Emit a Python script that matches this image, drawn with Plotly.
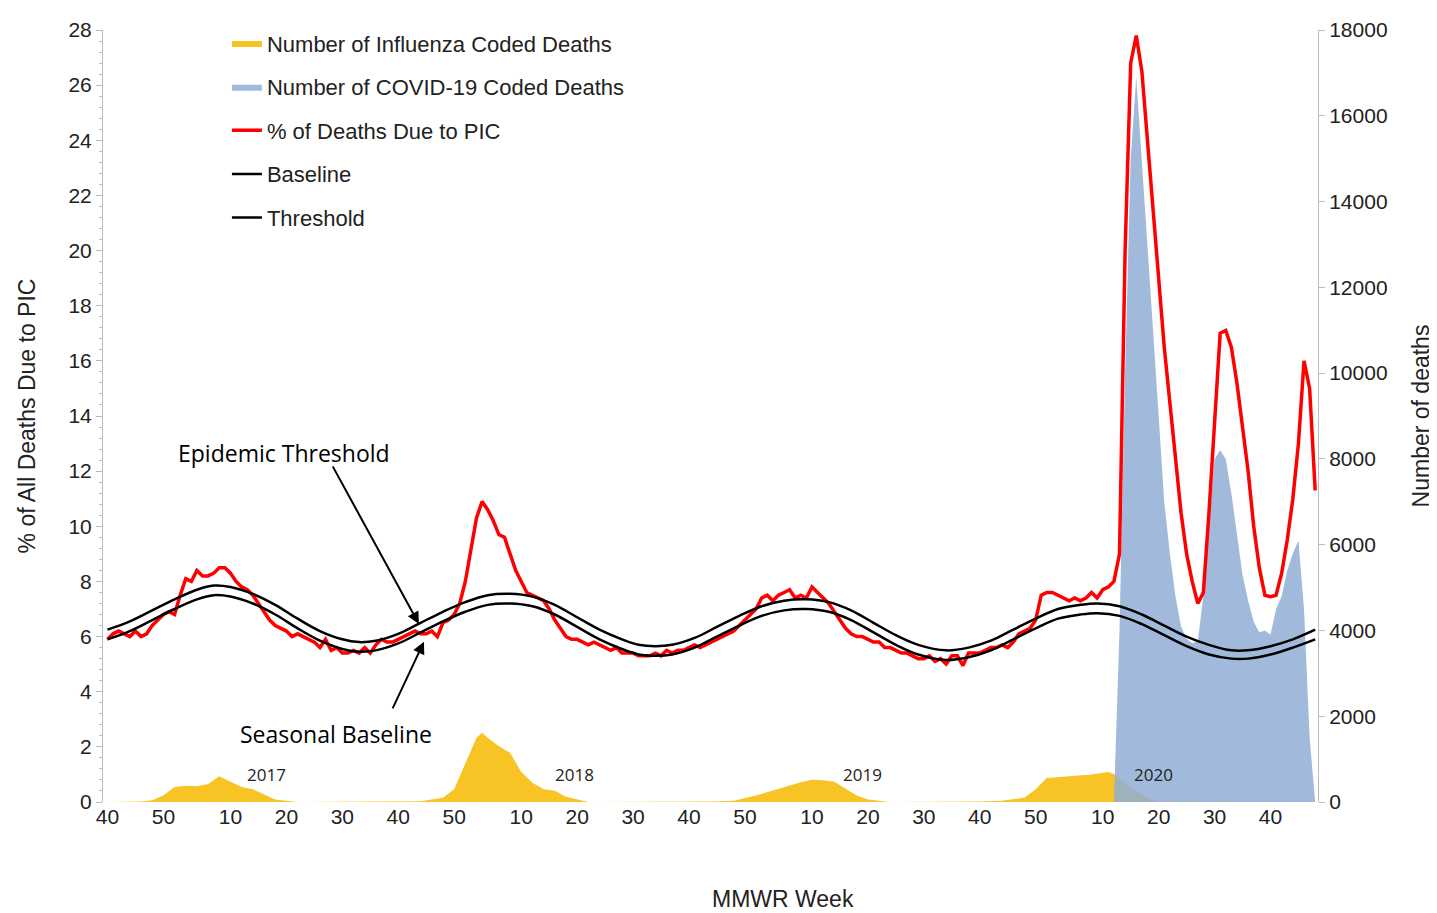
"""Percentage of deaths due to pneumonia, influenza or COVID-19 (PIC), with coded death counts."""

from plotly.graph_objects import Scatter, Figure

# weekly PIC percentage, from MMWR week 40 of 2016 onwards (index = week number in the series)
pic_pct = [5.9, 6.1, 6.2, 6.1, 6.0, 6.2, 6.0, 6.1, 6.4, 6.6, 6.8, 6.9, 6.8,
           7.5, 8.1, 8.0, 8.4, 8.2, 8.2, 8.3, 8.5,
           8.5, 8.3, 8.0, 7.8, 7.7, 7.5, 7.2, 6.9, 6.6, 6.4,
           6.3, 6.2, 6.0, 6.1, 6.0, 5.9, 5.8, 5.6, 5.9, 5.5, 5.6, 5.4, 5.4, 5.5, 5.4,
           5.6, 5.4, 5.7, 5.9, 5.8, 5.8, 5.9, 6.0, 6.1, 6.2, 6.1, 6.1, 6.2, 6.0, 6.5,
           6.6, 6.8, 7.2, 8.0, 9.2, 10.3, 10.9, 10.6, 10.2, 9.7,
           9.6, 9.0, 8.4, 8.0, 7.6, 7.5, 7.4, 7.3, 7.0, 6.6,
           6.3, 6.0, 5.9, 5.9, 5.8, 5.7, 5.8, 5.7, 5.6, 5.5, 5.6, 5.4, 5.4, 5.4, 5.3, 5.3, 5.3, 5.4, 5.3, 5.5,
           5.4, 5.5, 5.5, 5.6, 5.7, 5.6, 5.7, 5.8, 5.9, 6.0, 6.1, 6.2, 6.4, 6.6, 6.8, 7.0, 7.4, 7.5, 7.3, 7.5,
           7.6, 7.7, 7.4, 7.5, 7.4, 7.8, 7.6, 7.4, 7.2, 6.9, 6.6, 6.3, 6.1, 6.0, 6.0,
           5.9, 5.8, 5.8, 5.6, 5.6, 5.5, 5.4, 5.4, 5.3, 5.2, 5.2, 5.3, 5.1, 5.2, 5.0, 5.3, 5.3, 4.95, 5.4, 5.4,
           5.4, 5.5, 5.6, 5.6, 5.7, 5.6, 5.8, 6.1, 6.2, 6.3, 6.6, 7.5, 7.6, 7.6, 7.5, 7.4, 7.3, 7.4, 7.3, 7.4,
           7.6, 7.4, 7.7, 7.8, 8.0,
           9.0, 20.0, 26.8, 27.8, 26.5, 24.0, 21.5, 19.0, 16.5, 14.5, 12.5, 10.5, 9.0, 8.0, 7.2,
           7.6, 10.5, 14.0, 17.0, 17.1, 16.5, 15.2, 13.5, 12.0, 10.0, 8.5, 7.5, 7.45, 7.5, 8.3,
           9.5, 11.0, 13.0, 16.0, 15.0, 11.3]
weeks = list(range(len(pic_pct)))

# seasonal baseline and epidemic threshold (% of deaths)
curve_weeks = [0, 4, 8, 12, 16, 19, 22, 26, 30, 34, 38, 42, 45, 48, 52, 56, 60, 64, 68, 72,
               76, 80, 84, 88, 92, 95, 98, 101, 105, 109, 113, 117, 121, 125, 129, 133, 137,
               141, 145, 150, 154, 158, 162, 166, 170, 174, 177, 181, 185, 189, 193, 197,
               201, 204, 208, 212, 216]
baseline = [5.9, 6.2, 6.6, 7.0, 7.35, 7.5, 7.45, 7.2, 6.8, 6.3, 5.85, 5.55, 5.45, 5.5, 5.75,
            6.15, 6.55, 6.9, 7.15, 7.2, 7.1, 6.8, 6.35, 5.9, 5.55, 5.35, 5.3, 5.35, 5.6, 6.0,
            6.4, 6.75, 6.95, 7.0, 6.9, 6.6, 6.15, 5.7, 5.35, 5.15, 5.25, 5.5, 5.9, 6.3, 6.65,
            6.8, 6.85, 6.75, 6.45, 6.05, 5.65, 5.35, 5.2, 5.2, 5.35, 5.6, 5.9]
threshold = [6.25, 6.55, 6.95, 7.35, 7.7, 7.85, 7.8, 7.55, 7.15, 6.65, 6.2, 5.9, 5.8, 5.85,
             6.1, 6.5, 6.9, 7.25, 7.5, 7.55, 7.45, 7.15, 6.7, 6.25, 5.9, 5.7, 5.65, 5.7, 5.95,
             6.35, 6.75, 7.1, 7.3, 7.35, 7.25, 6.95, 6.5, 6.05, 5.7, 5.5, 5.6, 5.85, 6.25,
             6.65, 7.0, 7.15, 7.2, 7.1, 6.8, 6.4, 6.0, 5.7, 5.5, 5.5, 5.65, 5.9, 6.25]

# influenza coded deaths
flu_weeks = [0, 6, 8, 10, 12, 14, 16, 18, 20, 22, 24, 26, 28, 30, 34, 56, 60, 62, 64, 66, 67,
             68, 70, 72, 74, 76, 78, 80, 82, 86, 108, 112, 116, 118, 120, 122, 124, 126, 128,
             130, 132, 134, 136, 140, 156, 160, 164, 166, 168, 170, 172, 174, 176, 178, 179,
             180, 182, 184, 186, 188, 216]
flu_deaths = [0, 10, 40, 150, 350, 380, 370, 420, 600, 480, 350, 300, 180, 60, 0, 20, 100, 300,
              900, 1500, 1615, 1500, 1300, 1150, 700, 450, 300, 260, 120, 0, 10, 30, 150, 230,
              300, 380, 460, 520, 510, 470, 320, 150, 60, 0, 10, 30, 100, 300, 560, 580, 600,
              620, 640, 680, 700, 650, 450, 250, 90, 10, 0]

# COVID-19 coded deaths
covid_weeks = list(range(180, 217))
covid_deaths = [0, 4000, 10000, 15000, 16900, 15000, 13000, 11000, 9000, 7000, 5800, 4800,
                4100, 3800, 3700, 3750, 4800, 6500, 8000, 8200, 8000, 7200, 6200, 5300, 4700,
                4200, 3950, 4000, 3900, 4500, 4800, 5400, 5800, 6100, 4500, 1500, 0]

tick_vals = [0, 10, 22, 32, 42, 52, 62, 74, 84, 94, 104, 114, 126, 136, 146, 156, 166,
             178, 188, 198, 208]
tick_text = ["40", "50", "10", "20", "30", "40", "50", "10", "20", "30", "40", "50",
             "10", "20", "30", "40", "50", "10", "20", "30", "40"]
year_labels = ["2017", "2018", "2019", "2020"]
year_weeks = [28.5, 83.5, 135, 187]

FONT = "Liberation Sans, Arial, sans-serif"
NOTE_FONT = "Open Sans, sans-serif"

fig = Figure()
# death counts on the base (right) axis, percentages on the overlaying (left) axis so lines sit on top
fig.add_trace(Scatter(x=flu_weeks, y=flu_deaths, yaxis="y", mode="lines", fill="tozeroy",
                      line={"width": 0, "color": "#F7C325"}, fillcolor="#F7C325",
                      name="Number of Influenza Coded Deaths", legendgroup="a"))
fig.add_trace(Scatter(x=covid_weeks, y=covid_deaths, yaxis="y", mode="lines", fill="tozeroy",
                      line={"width": 0, "color": "rgba(145,174,214,0.85)"},
                      fillcolor="rgba(145,174,214,0.85)",
                      name="Number of COVID-19 Coded Deaths", legendgroup="b"))
fig.add_trace(Scatter(x=weeks, y=pic_pct, yaxis="y2", mode="lines",
                      line={"color": "#FF0000", "width": 3.5},
                      name="% of Deaths Due to PIC", legendgroup="c"))
fig.add_trace(Scatter(x=curve_weeks, y=baseline, yaxis="y2", mode="lines",
                      line={"color": "black", "width": 2.5, "shape": "spline"},
                      name="Baseline", legendgroup="d"))
fig.add_trace(Scatter(x=curve_weeks, y=threshold, yaxis="y2", mode="lines",
                      line={"color": "black", "width": 2.5, "shape": "spline"},
                      name="Threshold", legendgroup="e"))

annotations = [
    dict(x=55.7, y=6.46, yref="y2", ax=-87, ay=-159, text="", showarrow=True, arrowhead=2,
         arrowsize=1.2, arrowwidth=2, arrowcolor="black"),
    dict(x=56.6, y=5.81, yref="y2", ax=-32, ay=68, text="", showarrow=True, arrowhead=2,
         arrowsize=1.2, arrowwidth=2, arrowcolor="black"),
    dict(x=31.6, y=12.67, yref="y2", text="Epidemic Threshold", showarrow=False,
         font={"family": NOTE_FONT, "size": 23, "color": "black"}),
    dict(x=40.9, y=2.48, yref="y2", text="Seasonal Baseline", showarrow=False,
         font={"family": NOTE_FONT, "size": 23, "color": "black"}),
]
for label, wk in zip(year_labels, year_weeks):
    annotations.append(dict(x=wk, y=1.0, yref="y2", text=label, showarrow=False,
                            font={"family": NOTE_FONT, "size": 17, "color": "#222"}))
annotations.append(dict(x=0.56, y=-0.125, xref="paper", yref="paper", yanchor="middle",
                        text="MMWR Week", showarrow=False, font={"size": 23, "color": "#222"}))

fig.update_layout(
    width=1437, height=913,
    margin={"l": 95, "r": 127, "t": 10, "b": 119},
    plot_bgcolor="white", paper_bgcolor="white",
    font={"family": FONT, "size": 21, "color": "#222"},
    showlegend=True,
    legend={"x": 0.102, "y": 1.01, "xanchor": "left", "yanchor": "top",
            "font": {"size": 22, "color": "#222"}, "bgcolor": "rgba(0,0,0,0)",
            "traceorder": "grouped", "tracegroupgap": 12, "itemwidth": 30},
    xaxis={"range": [-0.8, 216.5], "tickvals": tick_vals, "ticktext": tick_text,
           "showgrid": False, "zeroline": False, "showline": False,
           "ticks": "", "tickfont": {"size": 21}},
    yaxis={"range": [0, 18000], "dtick": 2000, "tickformat": "d", "side": "right",
           "showgrid": False, "zeroline": False, "showline": True, "linecolor": "#BBBBBB",
           "ticks": "outside", "ticklen": 6, "tickcolor": "#BBBBBB",
           "title": {"text": "Number of deaths", "font": {"size": 23}, "standoff": 26}},
    yaxis2={"range": [0, 28], "dtick": 2, "overlaying": "y", "side": "left",
            "showgrid": False, "zeroline": False,
            "showline": True, "linecolor": "#BBBBBB", "ticks": "outside", "ticklen": 6,
            "tickcolor": "#BBBBBB", "minor": {"ticks": "outside", "ticklen": 3, "dtick": 0.4,
                                              "tickcolor": "#BBBBBB"},
            "title": {"text": "% of All Deaths Due to PIC", "font": {"size": 23}, "standoff": 26}},
    annotations=annotations,
)

fig.write_html("out.html")
